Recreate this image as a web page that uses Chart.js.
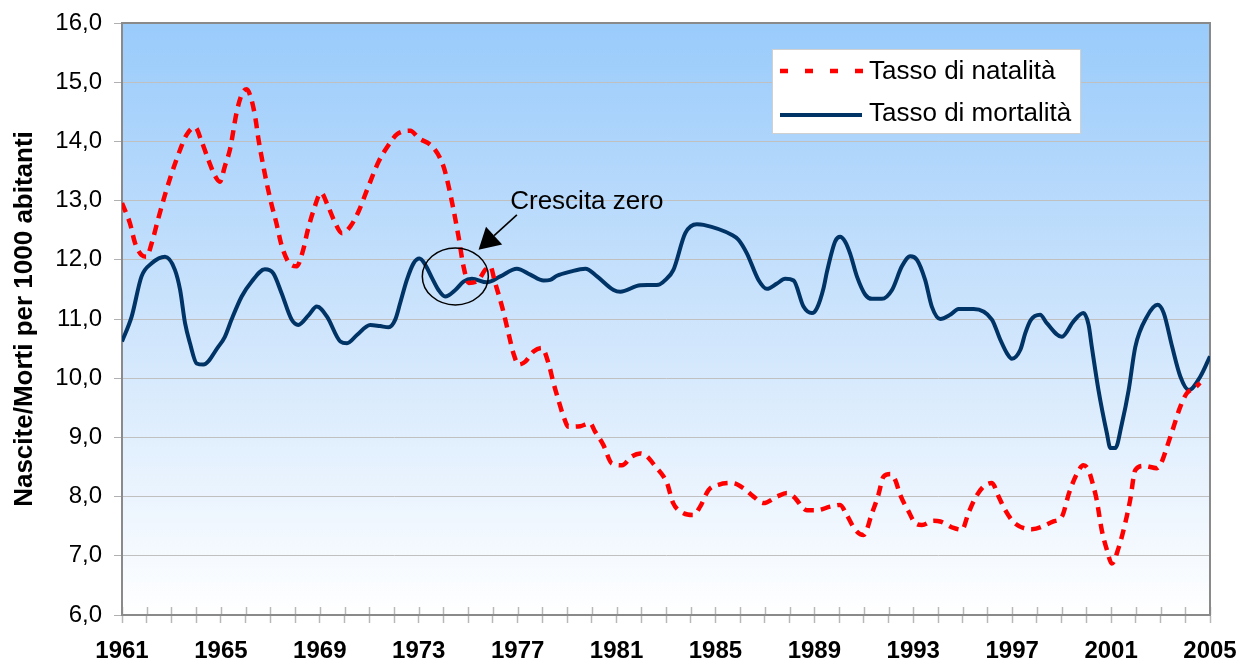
<!DOCTYPE html>
<html><head><meta charset="utf-8">
<script src="https://cdn.jsdelivr.net/npm/chart.js@4.4.1/dist/chart.umd.min.js"></script>
<style>html,body{margin:0;padding:0;background:#fff;}#wrap{width:1240px;height:666px;}</style>
</head><body><div id="wrap"><canvas id="c" width="1240" height="666"></canvas></div>
<script>
// ---- data ----
const natYears = [1961.0,1961.32,1961.53,1961.79,1961.99,1962.2,1962.47,1962.74,1963.01,1963.35,1963.61,1963.95,1964.22,1964.49,1964.76,1964.96,1965.16,1965.37,1965.63,1965.84,1966.04,1966.24,1966.4,1966.51,1966.64,1966.85,1967.05,1967.25,1967.45,1967.72,1968.06,1968.33,1968.5,1968.75,1969.05,1969.31,1969.56,1969.9,1970.23,1970.57,1970.91,1971.38,1971.78,1972.12,1972.66,1972.99,1973.6,1974.0,1974.21,1974.41,1974.61,1974.81,1975.02,1975.42,1975.69,1975.89,1976.09,1976.37,1976.63,1976.83,1977.04,1977.31,1977.64,1977.98,1978.25,1978.45,1978.65,1978.86,1979.06,1979.53,1979.93,1980.13,1980.47,1980.81,1981.22,1981.62,1981.96,1982.23,1982.57,1982.9,1983.04,1983.29,1983.71,1984.11,1984.38,1984.72,1985.12,1985.67,1986.14,1986.54,1986.94,1987.49,1987.89,1988.16,1988.7,1989.1,1989.64,1990.04,1990.31,1990.65,1990.99,1991.33,1991.59,1991.8,1992.07,1992.27,1992.47,1992.81,1993.08,1993.35,1993.82,1994.09,1994.63,1994.97,1995.23,1995.5,1995.84,1996.18,1996.45,1996.72,1997.08,1997.8,1998.67,1999.01,1999.3,1999.62,1999.88,2000.08,2000.29,2000.42,2000.62,2000.83,2001.03,2001.3,2001.57,2001.77,2001.98,2002.32,2002.86,2003.05,2003.26,2003.53,2003.8,2004.07,2004.36,2004.6];
const natValues = [12.96,12.62,12.28,12.08,12.05,12.28,12.70,13.10,13.46,13.86,14.11,14.24,14.00,13.69,13.42,13.32,13.58,13.87,14.48,14.79,14.88,14.70,14.38,14.06,13.75,13.30,12.93,12.61,12.25,11.97,11.89,12.17,12.48,12.84,13.13,12.93,12.68,12.45,12.56,12.82,13.18,13.66,13.94,14.12,14.18,14.06,13.89,13.58,13.24,12.84,12.39,11.89,11.61,11.66,11.83,11.89,11.61,11.21,10.76,10.42,10.23,10.28,10.45,10.51,10.25,9.92,9.63,9.35,9.18,9.19,9.24,9.10,8.87,8.56,8.53,8.68,8.73,8.68,8.51,8.34,8.23,7.89,7.72,7.69,7.83,8.11,8.20,8.23,8.14,8.00,7.89,8.00,8.06,8.00,7.77,7.77,7.83,7.86,7.69,7.44,7.35,7.72,8.03,8.34,8.38,8.28,8.03,7.75,7.55,7.52,7.59,7.58,7.47,7.44,7.72,7.97,8.17,8.23,8.00,7.77,7.56,7.45,7.58,7.66,8.06,8.39,8.53,8.45,8.17,7.94,7.44,7.10,6.87,7.13,7.55,7.94,8.45,8.52,8.48,8.59,8.84,9.18,9.52,9.75,9.83,9.92];

const morYears = [1961.0,1961.39,1961.79,1962.2,1962.74,1963.14,1963.35,1963.55,1963.75,1964.02,1964.29,1964.89,1965.16,1965.43,1965.84,1966.24,1966.78,1967.12,1967.45,1967.86,1968.13,1968.54,1968.88,1969.29,1969.83,1970.1,1970.5,1971.04,1971.44,1971.78,1972.05,1972.25,1972.52,1972.79,1973.03,1973.26,1973.54,1973.8,1974.07,1974.48,1974.81,1975.15,1975.76,1976.3,1976.97,1977.51,1978.05,1978.32,1978.59,1979.13,1979.74,1980.21,1980.88,1981.15,1981.96,1982.7,1982.95,1983.3,1983.78,1984.25,1984.52,1985.67,1985.93,1986.27,1986.74,1987.08,1987.49,1987.82,1988.16,1988.56,1988.9,1989.1,1989.37,1989.51,1989.84,1990.04,1990.24,1990.45,1990.72,1991.06,1991.33,1991.73,1992.14,1992.54,1992.88,1993.15,1993.48,1993.75,1994.09,1994.49,1994.83,1995.44,1996.18,1996.52,1996.79,1996.99,1997.33,1997.53,1997.75,1998.13,1998.4,1999.01,1999.48,1999.88,2000.09,2000.22,2000.49,2000.83,2000.97,2001.17,2001.44,2001.71,2001.98,2002.45,2002.88,2003.13,2003.47,2003.8,2004.14,2004.61,2005.0];
const morValues = [10.62,11.04,11.72,11.94,12.05,11.83,11.49,10.93,10.59,10.25,10.23,10.53,10.70,10.99,11.38,11.63,11.84,11.77,11.44,10.99,10.90,11.06,11.21,11.04,10.62,10.59,10.73,10.90,10.88,10.86,10.99,11.27,11.66,11.94,12.02,11.92,11.69,11.49,11.38,11.49,11.63,11.68,11.62,11.72,11.85,11.75,11.65,11.66,11.73,11.80,11.85,11.72,11.49,11.46,11.57,11.58,11.65,11.83,12.45,12.60,12.59,12.42,12.34,12.11,11.66,11.51,11.60,11.68,11.65,11.21,11.10,11.18,11.52,11.80,12.31,12.39,12.31,12.10,11.72,11.41,11.34,11.34,11.49,11.89,12.06,12.00,11.66,11.21,11.00,11.07,11.17,11.17,10.99,10.65,10.42,10.33,10.48,10.76,10.98,11.07,10.93,10.70,10.96,11.10,10.90,10.53,9.80,9.07,8.82,8.82,9.24,9.80,10.53,11.04,11.24,11.10,10.53,10.03,9.80,10.03,10.37];

const seriesNames = ['Tasso di natalità', 'Tasso di mortalità'];
const firstYear = 1961, lastYear = 2005;
const xLabelYears = [1961,1965,1969,1973,1977,1981,1985,1989,1993,1997,2001,2005];
const yMin = 6, yMax = 16, yStep = 1;
const yTitle = 'Nascite/Morti per 1000 abitanti';
const noteText = 'Crescita zero';

const RED = '#FF0000', BLUE = '#003366';
const FONT = '"Liberation Sans", Arial, sans-serif';

const toXY = (xs, ys) => xs.map((x, i) => ({x: x, y: ys[i]}));

const bgPlugin = {
  id: 'bg',
  beforeDraw(chart) {
    const {ctx, chartArea: a} = chart;
    const g = ctx.createLinearGradient(0, a.top, 0, a.bottom);
    g.addColorStop(0, '#99CBFB');
    g.addColorStop(0.5, '#CDE4FC');
    g.addColorStop(1, '#FFFFFF');
    ctx.save();
    ctx.fillStyle = g;
    ctx.fillRect(a.left, a.top, a.right - a.left, a.bottom - a.top);
    ctx.restore();
  },
  beforeDatasetsDraw(chart) {
    const {ctx, chartArea: a, scales} = chart;
    ctx.save();
    ctx.strokeStyle = '#b8b8b8';
    ctx.lineWidth = 1.5;
    scales.x.ticks.forEach(t => {
      const px = Math.round(scales.x.getPixelForValue(t.value)) + 0.5;
      ctx.beginPath(); ctx.moveTo(px, a.bottom - 8); ctx.lineTo(px, a.bottom); ctx.stroke();
    });
    ctx.strokeStyle = '#8a8a8a';
    ctx.lineWidth = 2;
    ctx.strokeRect(a.left, a.top, a.right - a.left, a.bottom - a.top);
    ctx.restore();
  }
};

const notePlugin = {
  id: 'note',
  afterDatasetsDraw(chart) {
    const {ctx, chartArea: a, scales} = chart;
    const X = v => scales.x.getPixelForValue(v), Y = v => scales.y.getPixelForValue(v);
    ctx.save();
    ctx.strokeStyle = '#000'; ctx.lineWidth = 1.5;
    ctx.beginPath(); ctx.ellipse(X(1974.48), Y(11.72), 33, 28.5, 0, 0, Math.PI * 2); ctx.stroke();
    const sx = X(1976.97), sy = Y(12.76), tx = X(1975.42), ty = Y(12.17);
    const dx = tx - sx, dy = ty - sy, len = Math.hypot(dx, dy), ux = dx / len, uy = dy / len;
    const L = 21, W = 12;
    const bx = tx - ux * L, by = ty - uy * L;
    ctx.lineWidth = 1.6;
    ctx.beginPath(); ctx.moveTo(sx, sy); ctx.lineTo(bx, by); ctx.stroke();
    ctx.fillStyle = '#000';
    ctx.beginPath(); ctx.moveTo(tx, ty); ctx.lineTo(bx - uy * W, by + ux * W); ctx.lineTo(bx + uy * W, by - ux * W); ctx.closePath(); ctx.fill();
    ctx.font = '26px ' + FONT; ctx.textBaseline = 'alphabetic'; ctx.textAlign = 'left';
    ctx.fillText(noteText, X(1976.70), Y(12.86));
    const lx = a.left + 650, ly = a.top + 26, lw = 308, lh = 84;
    ctx.fillStyle = '#fff'; ctx.fillRect(lx, ly, lw, lh);
    ctx.strokeStyle = '#d0d0d0'; ctx.lineWidth = 1; ctx.strokeRect(lx + 0.5, ly + 0.5, lw, lh);
    ctx.lineWidth = 4.5; ctx.strokeStyle = RED; ctx.setLineDash([8, 17]);
    ctx.beginPath(); ctx.moveTo(lx + 8, ly + 22); ctx.lineTo(lx + 92, ly + 22); ctx.stroke();
    ctx.setLineDash([]); ctx.strokeStyle = BLUE; ctx.lineWidth = 4;
    ctx.beginPath(); ctx.moveTo(lx + 8, ly + 66); ctx.lineTo(lx + 90, ly + 66); ctx.stroke();
    ctx.fillStyle = '#000';
    ctx.fillText(seriesNames[0], lx + 97, ly + 30);
    ctx.fillText(seriesNames[1], lx + 97, ly + 72);
    ctx.restore();
  }
};

new Chart(document.getElementById('c'), {
  type: 'line',
  data: {
    datasets: [
      { label: seriesNames[0], data: toXY(natYears, natValues), borderColor: RED, borderWidth: 4.5,
        borderDash: [10, 7], pointRadius: 0, cubicInterpolationMode: 'monotone', fill: false },
      { label: seriesNames[1], data: toXY(morYears, morValues), borderColor: BLUE, borderWidth: 4,
        pointRadius: 0, cubicInterpolationMode: 'monotone', fill: false }
    ]
  },
  options: {
    responsive: false, animation: false, devicePixelRatio: 1,
    layout: { padding: { left: 0, right: 30, top: 23, bottom: 0 } },
    plugins: { legend: { display: false }, tooltip: { enabled: false } },
    scales: {
      x: {
        type: 'linear', min: firstYear, max: lastYear,
        afterFit: s => { s.height = 51; s.paddingLeft = 0; s.paddingRight = 0; },
        afterBuildTicks: s => { const t = []; for (let y = firstYear; y <= lastYear; y++) t.push({value: y}); s.ticks = t; },
        ticks: { autoSkip: false, maxRotation: 0, padding: 14, color: '#000',
          font: { family: FONT, size: 24, weight: 'bold' },
          callback: v => xLabelYears.includes(v) ? String(v) : '' },
        grid: { drawOnChartArea: false, drawTicks: true, tickLength: 8, tickColor: '#b8b8b8', tickWidth: 1.5 },
        border: { color: '#8a8a8a', width: 2 }
      },
      y: {
        min: yMin, max: yMax,
        afterFit: s => { s.width = 122; s.paddingTop = 0; s.paddingBottom = 0; },
        ticks: { stepSize: yStep, padding: 12, color: '#000', font: { family: FONT, size: 24 },
          callback: v => v.toFixed(1).replace('.', ',') },
        grid: { color: '#c0c0c0', lineWidth: 1, tickLength: 8, tickColor: '#b0b0b0' },
        border: { color: '#8a8a8a', width: 2 },
        title: { display: true, text: yTitle, color: '#000', padding: { top: 9, bottom: 0 },
          font: { family: FONT, size: 26, weight: 'bold' } }
      }
    }
  },
  plugins: [bgPlugin, notePlugin]
});
</script></body></html>
